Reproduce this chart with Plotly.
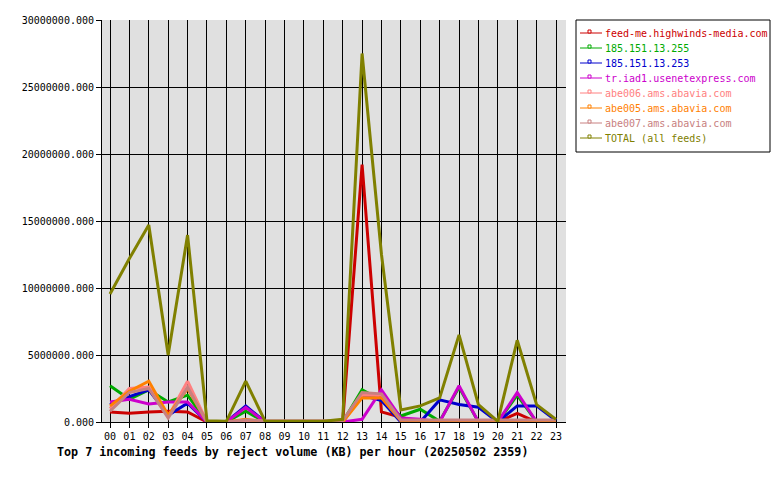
import plotly.graph_objects as go

hours = list(range(24))
hour_labels = [f"{h:02d}" for h in hours]

feed_names = [
    "feed-me.highwinds-media.com",
    "185.151.13.255",
    "185.151.13.253",
    "tr.iad1.usenetexpress.com",
    "abe006.ams.abavia.com",
    "abe005.ams.abavia.com",
    "abe007.ams.abavia.com",
    "TOTAL (all feeds)",
]
feed_colors = ["#cc0000", "#00aa00", "#0000cc", "#cc00cc", "#ff8080", "#ff8000", "#c88080", "#808000"]

M = 1_000_000
highwinds = [0.75, 0.65, 0.75, 0.8, 0.75, 0, 0, 0, 0, 0, 0, 0, 0, 19.2, 0.75, 0.35, 0, 0, 0, 0, 0, 0.65, 0, 0]
ip255 = [2.7, 1.7, 2.4, 1.5, 2.0, 0, 0, 0.8, 0, 0, 0, 0, 0, 2.4, 1.6, 0.45, 0.95, 0.05, 2.6, 0, 0, 2.0, 0, 0]
ip253 = [1.3, 1.9, 2.4, 0.5, 1.4, 0, 0, 1.2, 0, 0, 0, 0, 0, 2.0, 1.6, 0, 0, 1.65, 1.3, 1.1, 0, 1.2, 1.2, 0.1]
usenetexpress = [1.5, 1.7, 1.35, 1.5, 1.5, 0, 0, 1.1, 0, 0, 0, 0, 0, 0.2, 2.4, 0.3, 0.2, 0, 2.7, 0, 0, 2.2, 0, 0]
abe006 = [1.0, 2.5, 2.6, 0.4, 3.05, 0, 0, 0.1, 0, 0, 0, 0, 0, 2.0, 2.0, 0.1, 0.1, 0.1, 0.1, 0.1, 0.1, 0.1, 0.1, 0.1]
abe005 = [1.2, 2.3, 3.05, 0.5, 2.5, 0, 0, 0.2, 0, 0, 0, 0, 0, 1.8, 1.8, 0.1, 0.1, 0.1, 0.1, 0.1, 0.1, 0.1, 0.1, 0.1]
abe007 = [0.8, 2.2, 2.5, 0.3, 2.6, 0, 0, 0.15, 0.1, 0.1, 0.1, 0.1, 0.1, 2.2, 2.1, 0.15, 0.15, 0.15, 0.15, 0.15, 0.15, 0.15, 0.15, 0.15]
total = [9.55, 12.2, 14.7, 5.0, 13.95, 0.1, 0.05, 3.05, 0.05, 0.05, 0.05, 0.05, 0.2, 27.5, 12.5, 0.9, 1.2, 1.8, 6.5, 1.3, 0.05, 6.1, 1.3, 0.2]

series = [highwinds, ip255, ip253, usenetexpress, abe006, abe005, abe007, total]

title_text = "Top 7 incoming feeds by reject volume (KB) per hour (20250502 2359)"

# plot-area geometry in pixels
L, R, T, B = 102, 566, 20, 422
W, H = 780, 480
pw, ph = R - L, B - T


def px_x(p):
    return (p - L) / pw


def px_y(p):
    return (B - p) / ph


fig = go.Figure()
for name, color, vals in zip(feed_names, feed_colors, series):
    fig.add_trace(go.Scatter(
        x=hours, y=[v * M for v in vals], mode="lines", name=name,
        line=dict(color=color, width=3), showlegend=False,
    ))

mono = "DejaVu Sans Mono"

shapes = []
annotations = []
# legend box
shapes.append(dict(type="rect", xref="paper", yref="paper",
                   x0=px_x(576), x1=px_x(770), y0=px_y(152), y1=px_y(20),
                   line=dict(color="black", width=1), fillcolor="white", layer="above"))
for i, (name, color) in enumerate(zip(feed_names, feed_colors)):
    yc = 33 + 15 * i
    shapes.append(dict(type="line", xref="paper", yref="paper",
                       x0=px_x(580), x1=px_x(602), y0=px_y(yc), y1=px_y(yc),
                       line=dict(color=color, width=1), layer="above"))
    shapes.append(dict(type="rect", xref="paper", yref="paper",
                       x0=px_x(588), x1=px_x(591), y0=px_y(yc), y1=px_y(yc - 3),
                       line=dict(color=color, width=1), fillcolor="white", layer="above"))
    annotations.append(dict(text=name, xref="paper", yref="paper",
                            x=px_x(603), y=px_y(yc), xanchor="left", yanchor="middle",
                            showarrow=False, font=dict(family=mono, size=10, color=color)))

annotations.append(dict(text="<b>" + title_text + "</b>", xref="paper", yref="paper",
                        x=px_x(55), y=px_y(452), xanchor="left", yanchor="middle",
                        showarrow=False, font=dict(family=mono, size=11.7, color="black")))

fig.update_layout(
    width=W, height=H,
    margin=dict(l=L, r=W - R, t=T, b=H - B, pad=0),
    paper_bgcolor="white", plot_bgcolor="#e0e0e0",
    font=dict(family=mono, size=10, color="black"),
    shapes=shapes, annotations=annotations,
    showlegend=False,
)
fig.update_xaxes(
    range=[-8 / 19.39, 23 + 10 / 19.39], tickvals=hours, ticktext=hour_labels,
    showgrid=True, gridcolor="black", gridwidth=1, zeroline=False,
    showline=True, linecolor="black", linewidth=1,
    ticks="outside", ticklen=5, tickcolor="black", tickfont=dict(family=mono, size=10),
)
fig.update_yaxes(
    range=[0, 30 * M], tickvals=[i * 5 * M for i in range(7)], tickformat=".3f",
    showgrid=True, gridcolor="black", gridwidth=1, zeroline=False,
    showline=True, linecolor="black", linewidth=1,
    ticks="outside", ticklen=5, tickcolor="black", tickfont=dict(family=mono, size=10),
)

fig.write_html("out.html")
